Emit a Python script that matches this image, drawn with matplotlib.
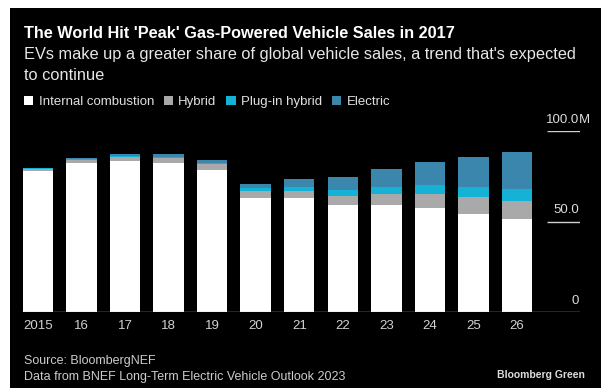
import matplotlib
matplotlib.use("Agg")
import matplotlib.pyplot as plt
from matplotlib.patches import Patch, Rectangle
import numpy as np

plt.rcParams['font.family'] = ['Liberation Sans', 'DejaVu Sans']

# global vehicle sales, millions
years = ["2015", "16", "17", "18", "19", "20", "21", "22", "23", "24", "25", "26"]
ice = [77.9, 82.3, 83.6, 82.2, 78.7, 63.2, 62.8, 59.1, 58.9, 57.3, 54.3, 51.2]
hybrid = [1.3, 1.8, 2.2, 2.7, 2.9, 3.7, 4.1, 5.0, 6.3, 7.9, 9.1, 10.3]
phev = [0.2, 0.3, 0.6, 0.8, 0.8, 1.4, 2.3, 3.1, 3.7, 4.8, 5.8, 6.5]
bev = [0.3, 0.5, 0.9, 1.4, 1.6, 2.2, 4.1, 7.6, 10.3, 12.9, 16.6, 20.4]
series_names = ["Internal combustion", "Hybrid", "Plug-in hybrid", "Electric"]
colors = ["#ffffff", "#a9a9a9", "#14b3d6", "#3a86ad"]

W, H = 603, 388
fig = plt.figure(figsize=(W / 100, H / 100), dpi=100, facecolor="white")
# black card with a thin white margin on the left/top like the screenshot
fig.patches.append(Rectangle((10 / W, 0), 591 / W, 380 / H, transform=fig.transFigure,
                             facecolor="black", edgecolor="none", zorder=-10))

ax = fig.add_axes([22 / W, (H - 312) / H, 558 / W, 181 / H])
ax.set_facecolor("none")
ax.set_zorder(1)

x = np.arange(len(years))
bottom = np.zeros(len(years))
for vals, c in zip([ice, hybrid, phev, bev], colors):
    ax.bar(x, vals, width=0.70, bottom=bottom, color=c, edgecolor="none", zorder=2)
    bottom += np.array(vals)

ax.set_xlim(-0.367, 12.447)
ax.set_ylim(0, 100)
for s in ax.spines.values():
    s.set_visible(False)
ax.set_yticks([])
ax.set_xticks(x)
ax.set_xticklabels(years, color="#d2d2d2", fontsize=9.5)
ax.tick_params(axis="x", length=0, pad=6)

ax.axhline(0, color="#bdbdbd", lw=1, zorder=3)
ax.hlines([50, 100], 11.69, 12.447, color="#cfcfcf", lw=1)
xr = 12.42
for v, lab in [(100, "100.0"), (50, "50.0"), (0, "0")]:
    ax.annotate(lab, (xr, v), xytext=(0, 6), textcoords="offset points",
                ha="right", va="baseline", color="#dcdcdc", fontsize=9.5,
                annotation_clip=False)
ax.annotate("M", (xr, 100), xytext=(0, 6), textcoords="offset points",
            ha="left", va="baseline", color="#dcdcdc", fontsize=9.5,
            annotation_clip=False)

fig.text(24 / W, 1 - 33 / H, "The World Hit 'Peak' Gas-Powered Vehicle Sales in 2017",
         color="white", fontsize=11.7, fontweight="bold", va="center")
fig.text(24 / W, 1 - 54 / H,
         "EVs make up a greater share of global vehicle sales, a trend that's expected",
         color="#e6e6e6", fontsize=11.8, va="center")
fig.text(24 / W, 1 - 75 / H, "to continue", color="#e6e6e6", fontsize=11.8, va="center")

handles = [Patch(facecolor=c, edgecolor="none") for c in colors]
fig.legend(handles, series_names, loc="center left", bbox_to_anchor=(24 / W, 1 - 102 / H),
           ncol=4, frameon=False, fontsize=9.5, labelcolor="#e0e0e0",
           handlelength=0.7, handleheight=0.7, handletextpad=0.4, columnspacing=0.75,
           borderpad=0, borderaxespad=0)

fig.text(24 / W, 1 - 361 / H, "Source: BloombergNEF", color="#cccccc", fontsize=9, va="center")
fig.text(24 / W, 1 - 377 / H, "Data from BNEF Long-Term Electric Vehicle Outlook 2023",
         color="#cccccc", fontsize=9, va="center")
fig.text(585 / W, 1 - 375 / H, "Bloomberg Green", color="#dddddd", fontsize=7.5,
         fontweight="bold", ha="right", va="center")

fig.savefig("out.png", dpi=100, facecolor="white")
